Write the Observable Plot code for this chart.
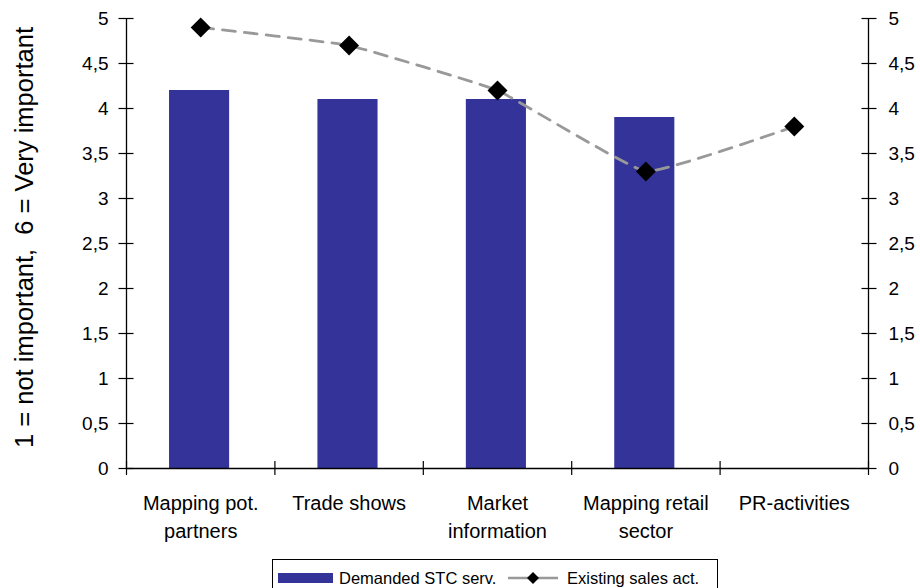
<!DOCTYPE html>
<html>
<head>
<meta charset="utf-8">
<script src="https://cdn.jsdelivr.net/npm/d3@7"></script>
<script src="https://cdn.jsdelivr.net/npm/@observablehq/plot@0.6"></script>
<style>
  html, body { margin: 0; padding: 0; background: #fff; overflow: hidden; }
  body { font-family: "Liberation Sans", Arial, sans-serif; width: 920px; height: 588px; position: relative; }
  #legend { position: absolute; left: 272px; top: 559px; width: 446px; height: 40px; border: 1px solid #000; box-sizing: border-box; font-size: 16.5px; color: #000; }
  #legend .item { position: absolute; top: 8px; display: flex; align-items: center; height: 20px; white-space: nowrap; }
</style>
</head>
<body>
<div id="chart"></div>
<div id="legend">
  <div class="item" style="left:5px"><svg width="55" height="12" style="margin-right:6px"><rect width="55" height="10" y="1" fill="#333399"></rect></svg>Demanded STC serv.</div>
  <div class="item" style="left:235px"><svg width="50" height="14" style="margin-right:9px"><line x1="0" x2="50" y1="7" y2="7" stroke="#999" stroke-width="2.5"></line><path d="M25,1 L31,7 L25,13 L19,7 Z" fill="#000"></path></svg>Existing sales act.</div>
</div>
<script>
const categories = ["Mapping pot.\npartners", "Trade shows", "Market\ninformation", "Mapping retail\nsector", "PR-activities"];
const demanded = [4.2, 4.1, 4.1, 3.9, null];
const existing = [4.9, 4.7, 4.2, 3.3, 3.8];
const yTicks = [0, 0.5, 1, 1.5, 2, 2.5, 3, 3.5, 4, 4.5, 5];
const yTitle = "1 = not important,  6 = Very important";

const rows = categories.map((c, i) => ({cat: c, i, demanded: demanded[i], existing: existing[i]}));
const barRows = rows.filter(d => d.demanded != null);
const boundaries = d3.range(categories.length + 1);
const fmt = d => String(d).replace(".", ",");
const blank = () => "";

const chart = Plot.plot({
  width: 920,
  height: 556,
  marginLeft: 126,
  marginRight: 52,
  marginTop: 18,
  marginBottom: 88,
  style: {fontFamily: "'Liberation Sans', Arial, sans-serif", color: "#000", background: "#fff"},
  x: {type: "linear", domain: [0, categories.length], axis: null},
  y: {domain: [0, 5], axis: null},
  marks: [
    Plot.rectY(barRows, {x1: d => d.i + 0.29, x2: d => d.i + 0.695, y1: 0, y2: "demanded", fill: "#333399"}),
    Plot.ruleX([0, categories.length], {stroke: "#000", strokeWidth: 1.3}),
    Plot.ruleY([0], {stroke: "#000", strokeWidth: 1.3}),
    Plot.axisY({anchor: "left", ticks: yTicks, tickFormat: blank, tickSize: 15, dx: 7.5, stroke: "#000", strokeWidth: 1.2, label: null}),
    Plot.axisY({anchor: "right", ticks: yTicks, tickFormat: blank, tickSize: 15, dx: -7.5, stroke: "#000", strokeWidth: 1.2, label: null}),
    Plot.text(yTicks, {y: d => d, text: fmt, frameAnchor: "left", textAnchor: "end", dx: -18, fontSize: 19, fill: "#000"}),
    Plot.text(yTicks, {y: d => d, text: fmt, frameAnchor: "right", textAnchor: "start", dx: 20, fontSize: 19, fill: "#000"}),
    Plot.axisX({anchor: "bottom", ticks: boundaries, tickFormat: blank, tickSize: 14, dy: -7, stroke: "#000", strokeWidth: 1.2, label: null}),
    Plot.text(rows, {x: d => d.i + 0.5, y: 0, text: "cat", lineAnchor: "top", dy: 22, fontSize: 20, lineHeight: 1.4, fill: "#000"}),
    Plot.line(rows, {x: d => d.i + 0.5, y: "existing", curve: "cardinal", tension: 0.7, stroke: "#999999", strokeWidth: 2.8, strokeDasharray: "13,9"}),
    Plot.dot(rows, {x: d => d.i + 0.5, y: "existing", symbol: "diamond2", r: 9, fill: "#000", stroke: "none"}),
    Plot.text([yTitle], {frameAnchor: "left", text: d => d, rotate: -90, textAnchor: "middle", dx: -102, dy: -6, fontSize: 25.5, fill: "#000"})
  ]
});
document.getElementById("chart").appendChild(chart);
</script>
</body>
</html>
